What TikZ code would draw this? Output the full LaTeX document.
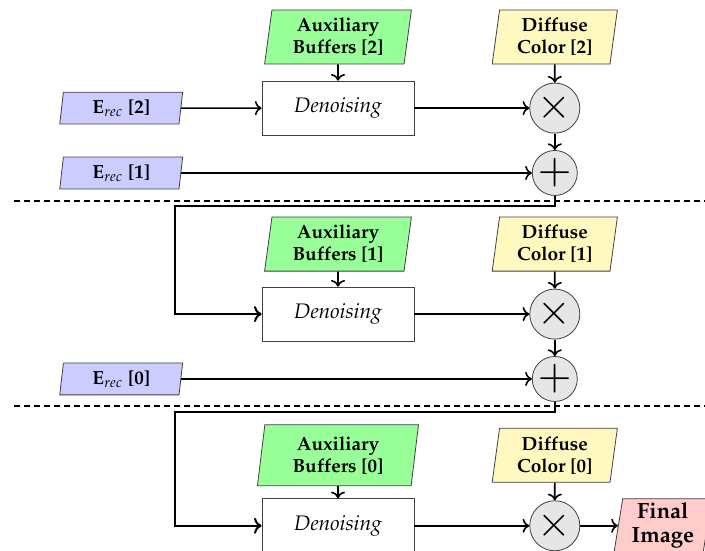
\documentclass[tikz,border=0pt]{standalone}
\usepackage[T1]{fontenc}
\usepackage{mathpazo}
\usepackage{xcolor}
\definecolor{RecBlue}{HTML}{CCCCFF}
\definecolor{BufferGreen}{HTML}{99FF99}
\definecolor{DiffuseYellow}{HTML}{FFF9C0}
\definecolor{FinalRed}{HTML}{FFCCCC}
\definecolor{OpGray}{HTML}{E6E6E6}
\usepackage{tikz}
\usetikzlibrary{shapes.geometric}
\usetikzlibrary{arrows.meta}

\tikzset{
	inputbox/.style={trapezium, trapezium left angle=80, trapezium right angle=100,
		trapezium stretches body, draw=black!75, align=center, inner sep=1pt,
		font=\fontsize{9.5}{11}\selectfont\bfseries},
	recbox/.style={inputbox, fill=RecBlue, minimum width=2.16cm, minimum height=0.56cm},
	bufferbox/.style={inputbox, fill=BufferGreen, minimum width=2.58cm, minimum height=0.95cm},
	bufferbig/.style={bufferbox, minimum width=2.83cm, minimum height=1.07cm},
	diffusebox/.style={inputbox, fill=DiffuseYellow, minimum width=2.20cm, minimum height=0.95cm},
	finalbox/.style={inputbox, fill=FinalRed, minimum width=1.72cm, minimum height=0.95cm,
		font=\fontsize{11}{12}\selectfont\bfseries},
	denoisebox/.style={rectangle, draw=black!75, fill=white, minimum width=2.67cm,
		minimum height=0.95cm, font=\fontsize{10.5}{12}\selectfont\itshape},
	mulop/.style={circle, draw=black!75, fill=OpGray, minimum size=0.88cm, inner sep=0pt, font=\huge},
	addop/.style={circle, draw=black!75, fill=OpGray, minimum size=0.67cm, inner sep=0pt, font=\huge},
	flow/.style={thick, ->},
	loopback/.style={line width=1pt, ->}
}

\begin{document}
\begin{tikzpicture}[y=-1cm]
		\def\xRec{2.13}    % E_rec column
		\def\xLoop{3.08}   % loop back column
		\def\xDen{5.94}    % denoising column
		\def\xOp{9.75}     % operator column
		
		\clip (0,0) rectangle (12.39,9.68);
		
		% stage separators
		\draw[thick,dash pattern=on 3pt off 2pt] (0.25,3.53) -- (12.39,3.53);
		\draw[thick,dash pattern=on 3pt off 2pt] (0.25,7.13) -- (12.39,7.13);
		
		% one denoising stage per level
		\foreach \i/\yTop/\yMid/\auxStyle in {2/0.65/1.90/bufferbox, 1/4.29/5.52/bufferbox, 0/8.00/9.24/bufferbig}{
			\node[\auxStyle] (aux\i) at (\xDen,\yTop) {Auxiliary\\Buffers [\i]};
			\node[diffusebox] (dif\i) at (\xOp,\yTop) {Diffuse\\Color [\i]};
			\node[denoisebox] (den\i) at (\xDen,\yMid) {Denoising};
			\node[mulop] (mul\i) at (\xOp,\yMid) {$\times$};
			
			\draw[flow] (aux\i.south) -- (den\i.north);
			\draw[flow] (dif\i.south) -- (mul\i.north);
			\draw[flow] (den\i.east) -- (mul\i.west);
		}
		
		\node[recbox] (rec2) at (\xRec,1.90) {$\mathbf{E}_{rec}$ [2]};
		\node[recbox] (rec1) at (\xRec,3.04) {$\mathbf{E}_{rec}$ [1]};
		\node[recbox] (rec0) at (\xRec,6.66) {$\mathbf{E}_{rec}$ [0]};
		
		\node[addop] (add1) at (\xOp,3.04) {$+$};
		\node[addop] (add0) at (\xOp,6.66) {$+$};
		
		\node[finalbox] (final) at (11.65,9.24) {Final\\Image};
		
		\coordinate (turn1) at (\xLoop,3.62);
		\coordinate (turn0) at (\xLoop,7.24);
		
		\draw[flow] (rec2.east) -- (den2.west);
		\draw[flow] (mul2.south) -- (add1.north);
		\draw[flow] (rec1.east) -- (add1.west);
		\draw[loopback] (add1.south) |- (turn1) |- (den1.west);
		
		\draw[flow] (mul1.south) -- (add0.north);
		\draw[flow] (rec0.east) -- (add0.west);
		\draw[loopback] (add0.south) |- (turn0) |- (den0.west);
		
		\draw[flow] (mul0.east) -- (final.west);
		
	\end{tikzpicture}
\end{document}
